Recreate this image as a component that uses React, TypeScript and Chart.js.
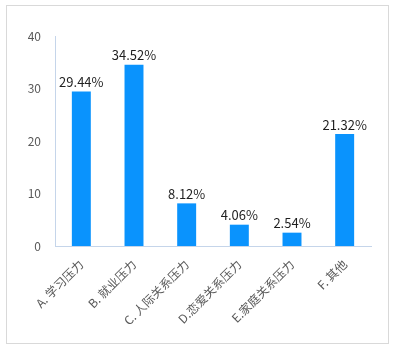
import React, { useEffect, useRef } from "react";
import { Chart, registerables } from "chart.js";

Chart.register(...registerables);

const categories = ["A. 学习压力", "B. 就业压力", "C. 人际关系压力", "D.恋爱关系压力", "E.家庭关系压力", "F. 其他"];
const values = [29.44, 34.52, 8.12, 4.06, 2.54, 21.32];
const valueLabels = ["29.44%", "34.52%", "8.12%", "4.06%", "2.54%", "21.32%"];
const yTicks = [0, 10, 20, 30, 40];

const FONT = "'Noto Sans CJK SC', 'Noto Sans', sans-serif";

const labelPlugin = {
  id: "valueLabels",
  afterDatasetsDraw(chart: any) {
    const ctx = chart.ctx;
    const meta = chart.getDatasetMeta(0);
    ctx.save();
    ctx.fillStyle = "#1f1f1f";
    ctx.font = `13px ${FONT}`;
    ctx.textAlign = "center";
    ctx.textBaseline = "bottom";
    meta.data.forEach((bar: any, i: number) => {
      ctx.fillText(valueLabels[i], bar.x, bar.y - 3);
    });
    ctx.restore();
  },
};

export default function App() {
  const ref = useRef<HTMLCanvasElement>(null);
  useEffect(() => {
    const chart = new Chart(ref.current!, {
      type: "bar",
      data: {
        labels: categories,
        datasets: [
          {
            data: values,
            backgroundColor: "#0a93fd",
            barPercentage: 0.36,
            categoryPercentage: 1,
          },
        ],
      },
      options: {
        animation: false,
        responsive: false,
        maintainAspectRatio: false,
        layout: { padding: { top: 36, left: 0, right: 29, bottom: 0 } },
        plugins: { legend: { display: false }, tooltip: { enabled: false } },
        scales: {
          x: {
            grid: { display: false, drawTicks: false },
            border: { display: true, color: "#c5d5ea", width: 1 },
            ticks: {
              minRotation: 45,
              maxRotation: 45,
              autoSkip: false,
              padding: 11,
              color: "#595959",
              font: { family: FONT, size: 12 },
            },
            afterFit(scale: any) {
              scale.height = 105;
            },
          },
          y: {
            min: 0,
            max: 40,
            afterBuildTicks(scale: any) {
              scale.ticks = yTicks.map((v) => ({ value: v }));
            },
            grid: { display: false, drawTicks: false },
            border: { display: true, color: "#c5d5ea", width: 1 },
            ticks: {
              padding: 14,
              color: "#595959",
              font: { family: FONT, size: 12 },
            },
            afterFit(scale: any) {
              scale.width = 55;
            },
          },
        },
      },
      plugins: [labelPlugin],
    });
    return () => chart.destroy();
  }, []);
  return (
    <div style={{ position: "absolute", left: 0, top: 0, width: 400, height: 351, background: "#fff" }}>
      <div
        style={{
          position: "absolute",
          left: 6,
          top: 5,
          width: 383,
          height: 339,
          border: "1px solid #d9d9d9",
          boxSizing: "border-box",
        }}
      />
      <canvas ref={ref} width={400} height={351} style={{ position: "absolute", left: 0, top: 0, display: "block" }} />
    </div>
  );
}
